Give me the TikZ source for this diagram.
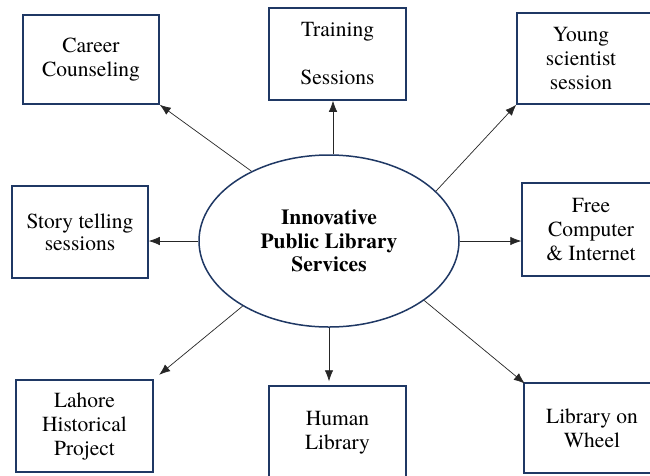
\documentclass[tikz,border=0pt]{standalone}
\usepackage{fontspec}
\setmainfont{texgyretermes}[Extension=.otf,UprightFont=*-regular,BoldFont=*-bold,ItalicFont=*-italic,BoldItalicFont=*-bolditalic]
\usetikzlibrary{arrows.meta,calc,shapes.geometric}
\definecolor{navy}{HTML}{1F3864}
\begin{document}
\begin{tikzpicture}[x=1pt,y=-1pt,
  box/.style={draw=navy,line width=1.5pt,inner sep=0pt,align=center,
    font=\fontsize{21.5}{24}\selectfont},
  arr/.style={draw=black!85,line width=0.7pt,-{Latex[length=11pt,width=8.5pt]}}]
\useasboundingbox (0,0) rectangle (650,475);
\fill[white] (0,0) rectangle (650,475);
% boxes
\node[box,minimum width=136pt,minimum height=89pt] (career) at (91,59.5) {Career\\Counseling};
\node[box,minimum width=137pt,minimum height=92pt] (training) at (337.5,54) {Training\\[24pt]Sessions};
\node[box,minimum width=143pt,minimum height=91pt] (young) at (588.5,58.5) {\hspace*{-15pt}Young\\\hspace*{-15pt}scientist\\\hspace*{-15pt}session};
\node[box,minimum width=136pt,minimum height=92pt,font=\fontsize{21.5}{22}\selectfont] (story) at (80,232) {Story telling\\sessions};
\node[box,minimum width=138pt,minimum height=93pt] (free) at (591,229.5) {Free\\Computer\\\& Internet};
\node[box,minimum width=137pt,minimum height=92pt] (lahore) at (84.5,426) {Lahore\\Historical\\Project};
\node[box,minimum width=137pt,minimum height=94pt] (human) at (337.5,433) {Human\\Library};
\node[box,minimum width=136pt,minimum height=90pt] (wheel) at (592,428) {Library on\\Wheel};
% centre
\node[draw=navy,line width=1.5pt,ellipse,minimum width=260pt,minimum height=172pt,inner sep=0pt,
  align=center,font=\fontsize{21.5}{23.3}\selectfont\bfseries] (ell) at (329,241)
  {Innovative\\Public Library\\Services};
% arrow end points
\coordinate (tstart) at ($(ell.north)+(4,0)$);
\coordinate (tend) at (tstart |- training.south);
\coordinate (hend) at (ell.south |- human.north);
% arrows
\draw[arr] (ell.138) -- (career.south east);
\draw[arr] (tstart) -- (tend);
\draw[arr] (ell.25) -- (young.south west);
\draw[arr] (ell.west) -- (ell.west -| story.east);
\draw[arr] (ell.east) -- (ell.east -| free.west);
\draw[arr,shorten >=7pt] (ell.217) -- (lahore.north east);
\draw[arr,shorten >=4pt] (ell.south) -- (hend);
\draw[arr,shorten >=-2pt] (ell.328) -- (wheel.north west);
\end{tikzpicture}
\end{document}
